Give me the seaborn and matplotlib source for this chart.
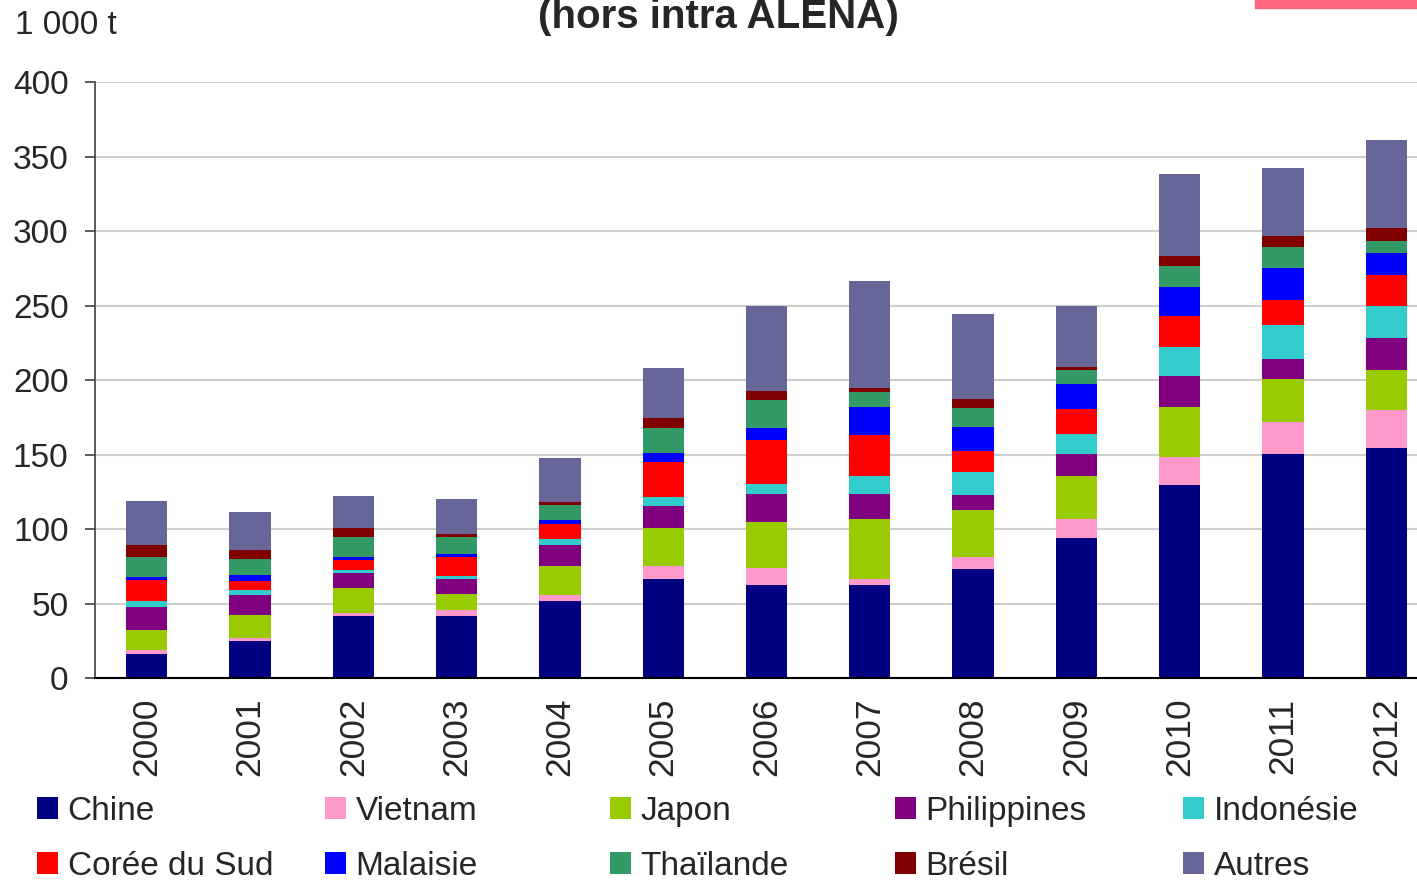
import matplotlib
matplotlib.use("Agg")
import matplotlib.pyplot as plt
from matplotlib.patches import Patch, Rectangle
import seaborn as sns
import pandas as pd

years = list(range(2000, 2013))
countries = ["Chine", "Vietnam", "Japon", "Philippines", "Indonésie",
             "Corée du Sud", "Malaisie", "Thaïlande", "Brésil", "Autres"]
colors = ["#000080", "#FF99CC", "#99CC00", "#800080", "#33CCCC",
          "#FF0000", "#0000FF", "#339966", "#800000", "#666699"]

chine = [16, 25, 41.5, 41.5, 51.5, 66.5, 62.5, 62.5, 73, 94, 129.5, 150.5, 154.5]
vietnam = [2.5, 2, 2, 4, 4, 9, 11, 4, 8, 12.5, 19, 21, 25.5]
japon = [14, 15, 17, 11, 19.5, 25, 31, 40, 31.5, 29, 33.5, 29.5, 27]
philippines = [15, 14, 10, 10, 14, 15, 19, 17, 10, 15, 21, 13, 21]
indonesie = [4.5, 3, 2, 2, 4.5, 6, 6.5, 12, 15.5, 13, 19, 23, 21.5]
coree = [14, 6, 7, 13, 10, 23.5, 29.5, 27.5, 14.5, 17, 21, 17, 21]
malaisie = [2, 4, 2, 2, 2.5, 6, 8, 19, 16, 16.5, 19.5, 21.5, 15]
thailande = [13, 11, 13, 11, 10, 17, 19, 10, 13, 10, 14, 14, 8]
bresil = [8.5, 6, 6, 2, 2, 6.5, 6, 2.5, 6, 2, 7, 7, 8.5]
autres = [29.5, 25.5, 21.5, 23.5, 29.5, 33.5, 57, 72, 57, 40.5, 54.5, 46, 59]

series = [chine, vietnam, japon, philippines, indonesie,
          coree, malaisie, thailande, bresil, autres]

rows = []
for name, vals in zip(countries, series):
    for y, v in zip(years, vals):
        rows.append({"annee": y, "pays": name, "valeur": v})
df = pd.DataFrame(rows)

sns.set_style("white")
plt.rcParams["font.family"] = ["Liberation Sans", "DejaVu Sans"]

fig = plt.figure(figsize=(14.17, 8.8), dpi=100)
W, H = 1417, 880
ax = fig.add_axes([95 / W, (H - 678) / H, (1438 - 95) / W, (678 - 82) / H])

palette = dict(zip(countries, colors))
sns.histplot(data=df, x="annee", weights="valeur", hue="pays",
             hue_order=countries[::-1], palette=palette, multiple="stack",
             discrete=True, shrink=0.4, linewidth=0, alpha=1,
             legend=False, ax=ax)

ax.set_xlim(1999.5, 2012.5)
ax.set_ylim(0, 400)
ax.set_yticks(range(0, 401, 50))
ax.set_xticks(years)
ax.set_xticklabels([str(y) for y in years], rotation=90)
ax.set_xticks([y + 0.5 for y in years[:-1]] + [1999.5], minor=True)
ax.tick_params(axis="x", which="major", length=0, pad=14, labelsize=25.5)
ax.tick_params(axis="x", which="minor", length=8, width=1.2, color="#404040",
               direction="out")
ax.tick_params(axis="y", length=7, width=1.2, color="#404040", pad=12,
               labelsize=24, left=True)
ax.set_xlabel("")
ax.set_ylabel("")
ax.yaxis.grid(True, color="#CFCFCF", linewidth=1.5)
ax.set_axisbelow(True)
for s in ["top", "right"]:
    ax.spines[s].set_visible(False)
ax.spines["left"].set_color("#404040")
ax.spines["left"].set_linewidth(1.2)
ax.spines["bottom"].set_color("black")
ax.spines["bottom"].set_linewidth(1.5)

fig.text(15 / W, 1 - 25 / H, "1 000 t", fontsize=24, va="center", ha="left")
fig.text(718 / W, 1 - 17 / H, "(hors intra ALENA)", fontsize=29,
         fontweight="bold", va="center", ha="center")
fig.add_artist(Rectangle((1255 / W, 1 - 8 / H), 170 / W, 10 / H,
                         transform=fig.transFigure, color="#FF6680",
                         clip_on=False))

# legend: 5 columns x 2 rows, column-wise groups
col_x = [37, 325, 610, 895, 1183]
for i, x in enumerate(col_x):
    idx = [i, i + 5]
    handles = [Patch(facecolor=colors[k], edgecolor="none") for k in idx]
    labels = [countries[k] for k in idx]
    fig.legend(handles, labels, loc="upper left",
               bbox_to_anchor=(x / W, 1 - 796 / H), frameon=False,
               fontsize=24, handlelength=0.62, handleheight=0.62,
               handletextpad=0.3, labelspacing=0.72, borderpad=0,
               borderaxespad=0)

fig.savefig("out.png", dpi=100)
